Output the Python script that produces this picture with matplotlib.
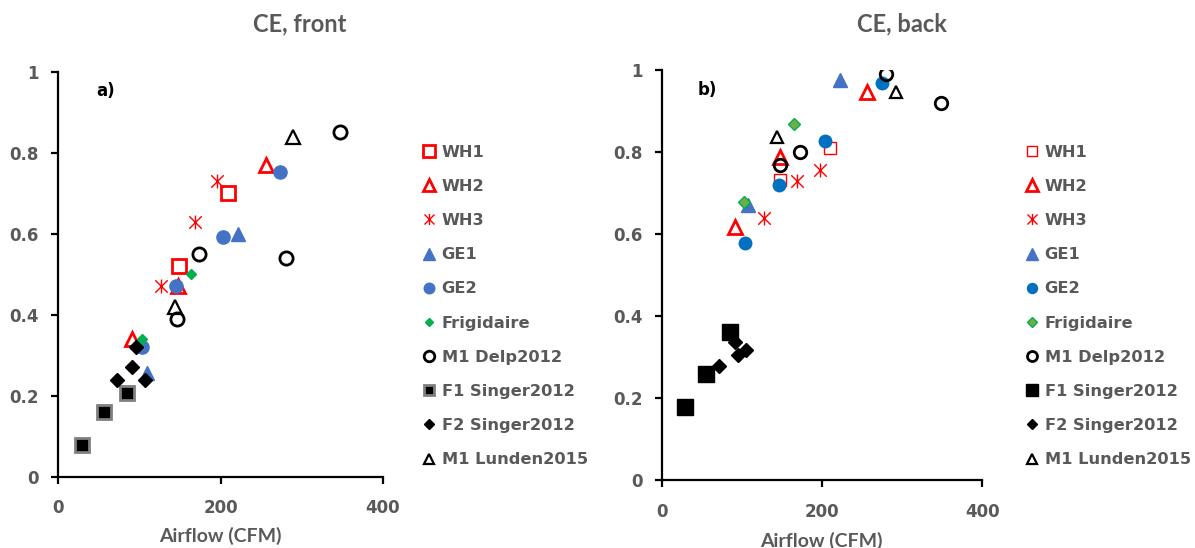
import matplotlib
matplotlib.use("Agg")
from matplotlib import pyplot as plt
from matplotlib.path import Path

# CE vs airflow, front / back

labels = ["WH1", "WH2", "WH3", "GE1", "GE2", "Frigidaire",
          "M1 Delp2012", "F1 Singer2012", "F2 Singer2012", "M1 Lunden2015"]

# a) front
wh1_f_x = [149, 209]
wh1_f_y = [0.52, 0.70]
wh2_f_x = [91, 148, 256]
wh2_f_y = [0.34, 0.47, 0.77]
wh3_f_x = [127, 169, 196]
wh3_f_y = [0.47, 0.63, 0.73]
ge1_f_x = [110, 222]
ge1_f_y = [0.255, 0.60]
ge2_f_x = [103, 145, 203, 273]
ge2_f_y = [0.32, 0.472, 0.593, 0.753]
frig_f_x = [103, 164]
frig_f_y = [0.34, 0.50]
delp_f_x = [146, 173, 280, 347]
delp_f_y = [0.39, 0.55, 0.54, 0.85]
f1_f_x = [29, 56, 85]
f1_f_y = [0.078, 0.16, 0.206]
f2_f_x = [73, 91, 96, 107]
f2_f_y = [0.24, 0.272, 0.32, 0.24]
lund_f_x = [144, 289]
lund_f_y = [0.42, 0.838]

# b) back
wh1_b_x = [148, 210]
wh1_b_y = [0.733, 0.81]
wh2_b_x = [92, 148, 256]
wh2_b_y = [0.618, 0.79, 0.947]
wh3_b_x = [128, 169, 197]
wh3_b_y = [0.64, 0.73, 0.758]
ge1_b_x = [108, 222]
ge1_b_y = [0.673, 0.978]
ge2_b_x = [104, 146, 204, 275]
ge2_b_y = [0.579, 0.72, 0.829, 0.969]
frig_b_x = [103, 165]
frig_b_y = [0.679, 0.87]
delp_b_x = [147, 173, 280, 349]
delp_b_y = [0.77, 0.80, 0.992, 0.92]
f1_b_x = [29, 55, 85]
f1_b_y = [0.179, 0.259, 0.362]
f2_b_x = [72, 91, 95, 105]
f2_b_y = [0.28, 0.339, 0.307, 0.319]
lund_b_x = [144, 292]
lund_b_y = [0.837, 0.947]

y_ticks = [0, 0.2, 0.4, 0.6, 0.8, 1]
y_ticklabels = ["0", "0.2", "0.4", "0.6", "0.8", "1"]
x_ticks = [0, 200, 400]

gray = "#595959"
red = "#FF0000"

# excel-like asterisk: X plus a vertical bar
star = Path([(-0.9, -0.9), (0.9, 0.9), (-0.9, 0.9), (0.9, -0.9), (0, -1), (0, 1)],
            [Path.MOVETO, Path.LINETO, Path.MOVETO, Path.LINETO, Path.MOVETO, Path.LINETO])

fig = plt.figure(figsize=(11.95, 5.48), dpi=100)
ax1 = fig.add_axes([0.04854, 0.1301, 0.27197, 0.73905])
ax2 = fig.add_axes([0.55372, 0.12318, 0.26828, 0.74818])


def style(ax):
    ax.set_xlim(0, 400)
    ax.set_ylim(0, 1)
    ax.set_xticks(x_ticks)
    ax.set_xticklabels([str(t) for t in x_ticks])
    ax.set_yticks(y_ticks)
    ax.set_yticklabels(y_ticklabels)
    for s in ["top", "right"]:
        ax.spines[s].set_visible(False)
    for s in ["left", "bottom"]:
        ax.spines[s].set_linewidth(1.6)
        ax.spines[s].set_color("black")
    ax.tick_params(direction="out", length=5, width=1.6, color="black",
                   labelsize=12, labelcolor=gray)
    ax.tick_params(axis="y", pad=9)
    ax.tick_params(axis="x", pad=11)
    for t in ax.get_xticklabels() + ax.get_yticklabels():
        t.set_fontweight("bold")


def add_legend(ax, handles, x0):
    ax.legend(handles, labels, loc="upper left", bbox_to_anchor=(x0 / 1195, 1 - 144.7 / 548),
              bbox_transform=fig.transFigure, frameon=False, markerscale=0.8,
              prop=dict(family="DejaVu Sans", weight="bold", size=11.7), labelcolor=gray,
              handlelength=1.0, handletextpad=0.26, labelspacing=1.18,
              borderpad=0, borderaxespad=0)


kw = dict(ls="none")
# front
h = []
h += ax1.plot(wh1_f_x, wh1_f_y, marker="s", ms=10.5, mfc="none", mec=red, mew=2, **kw)
h += ax1.plot(wh2_f_x, wh2_f_y, marker="^", ms=10, mfc="none", mec=red, mew=2, **kw)
h += ax1.plot(wh3_f_x, wh3_f_y, marker=star, ms=10, mfc="none", mec=red, mew=1, **kw)
h += ax1.plot(ge1_f_x, ge1_f_y, marker="^", ms=10, mfc="#4472C4", mec="#4472C4", **kw)
h += ax1.plot(ge2_f_x, ge2_f_y, marker="o", ms=9.5, mfc="#4472C4", mec="#4472C4", **kw)
h += ax1.plot(frig_f_x, frig_f_y, marker="D", ms=5.5, mfc="#00B050", mec="#00B050", **kw)
h += ax1.plot(delp_f_x, delp_f_y, marker="o", ms=9.5, mfc="none", mec="black", mew=2, **kw)
h += ax1.plot(f1_f_x, f1_f_y, marker="s", ms=9.5, mfc="black", mec="#7F7F7F", mew=2, **kw)
h += ax1.plot(f2_f_x, f2_f_y, marker="D", ms=6.7, mfc="black", mec="black", **kw)
h += ax1.plot(lund_f_x, lund_f_y, marker="^", ms=9.5, mfc="none", mec="black", mew=1.6, **kw)
style(ax1)
add_legend(ax1, h, 421.2)

# back
g = []
g += ax2.plot(wh1_b_x, wh1_b_y, marker="s", ms=8.5, mfc="none", mec=red, mew=1, **kw)
g += ax2.plot(wh2_b_x, wh2_b_y, marker="^", ms=10, mfc="none", mec=red, mew=2, **kw)
g += ax2.plot(wh3_b_x, wh3_b_y, marker=star, ms=10, mfc="none", mec=red, mew=1, **kw)
g += ax2.plot(ge1_b_x, ge1_b_y, marker="^", ms=10.5, mfc="#4472C4", mec="#4472C4", **kw)
g += ax2.plot(ge2_b_x, ge2_b_y, marker="o", ms=9, mfc="#0070C0", mec="#0070C0", **kw)
g += ax2.plot(frig_b_x, frig_b_y, marker="D", ms=6.5, mfc="#70AD47", mec="#00B050", mew=1, **kw)
g += ax2.plot(delp_b_x, delp_b_y, marker="o", ms=9, mfc="none", mec="black", mew=2, **kw)
g += ax2.plot(f1_b_x, f1_b_y, marker="s", ms=11, mfc="black", mec="black", **kw)
g += ax2.plot(f2_b_x, f2_b_y, marker="D", ms=7, mfc="black", mec="black", **kw)
g += ax2.plot(lund_b_x, lund_b_y, marker="^", ms=9, mfc="none", mec="black", mew=1.6, **kw)
style(ax2)
add_legend(ax2, g, 1024.2)

ax1.text(0.117, 0.953, "a)", transform=ax1.transAxes, ha="left", va="center",
         fontsize=12, fontweight="bold", color="black")
ax2.text(0.113, 0.952, "b)", transform=ax2.transAxes, ha="left", va="center",
         fontsize=12, fontweight="bold", color="black")

fig.text(300 / 1195, 1 - 24 / 548, "CE, front", ha="center", va="center",
         family="Lato", fontweight="bold", fontsize=17, color=gray)
fig.text(902 / 1195, 1 - 24 / 548, "CE, back", ha="center", va="center",
         family="Lato", fontweight="bold", fontsize=17, color=gray)
fig.text(220.8 / 1195, 1 - 536 / 548, "Airflow (CFM)", ha="center", va="center",
         family="Lato", fontweight="bold", fontsize=14, color=gray)
fig.text(821.7 / 1195, 1 - 540.7 / 548, "Airflow (CFM)", ha="center", va="center",
         family="Lato", fontweight="bold", fontsize=14, color=gray)

plt.savefig("out.png", dpi=100)
